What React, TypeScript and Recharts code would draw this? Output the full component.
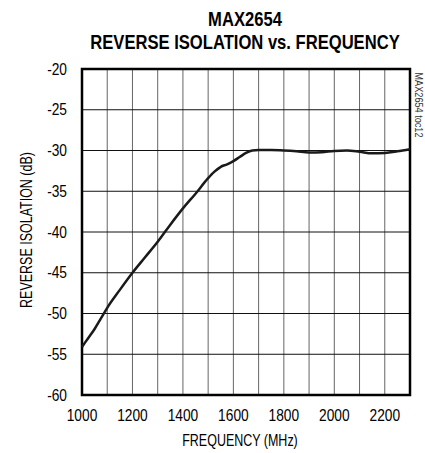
import React from 'react';
import { LineChart, Line, XAxis, YAxis, CartesianGrid, ReferenceArea } from 'recharts';

const frequencies = [1000, 1025, 1050, 1075, 1100, 1150, 1200, 1250, 1300, 1350, 1400, 1450, 1500, 1525, 1550, 1575, 1600, 1625, 1650, 1675, 1700, 1750, 1800, 1850, 1900, 1950, 2000, 2050, 2100, 2150, 2200, 2250, 2300];
const isolation = [-54.1, -53.0, -51.9, -50.6, -49.3, -47.1, -45.0, -43.1, -41.2, -39.1, -37.1, -35.3, -33.4, -32.6, -32.0, -31.7, -31.3, -30.8, -30.3, -30.0, -29.95, -29.95, -30.0, -30.1, -30.25, -30.2, -30.05, -30.0, -30.15, -30.35, -30.3, -30.1, -29.85];

const gridFrequencies = [1000, 1100, 1200, 1300, 1400, 1500, 1600, 1700, 1800, 1900, 2000, 2100, 2200, 2300];
const labeledFrequencies = [1000, 1200, 1400, 1600, 1800, 2000, 2200];
const yTicks = [-60, -55, -50, -45, -40, -35, -30, -25, -20];

const titleLines = ['MAX2654', 'REVERSE ISOLATION vs. FREQUENCY'];
const xLabel = 'FREQUENCY (MHz)';
const yLabel = 'REVERSE ISOLATION (dB)';
const watermark = 'MAX2654 toc12';

const data = frequencies.map((f, i) => ({ f, v: isolation[i] }));

const FONT = "'Liberation Sans', Arial, sans-serif";

const XTick = (props: any) => {
  const { x, y, payload } = props;
  const label = labeledFrequencies.includes(payload.value) ? String(payload.value) : '';
  return (
    <text transform={`translate(${x},${y}) scale(0.86,1)`} textAnchor="middle" dy="0.71em" fontFamily={FONT} fontSize={16} fill="#000">
      {label}
    </text>
  );
};

const YTick = (props: any) => {
  const { x, y, payload } = props;
  return (
    <text transform={`translate(${x},${y}) scale(0.86,1)`} textAnchor="end" dy="0.355em" fontFamily={FONT} fontSize={16} fill="#000">
      {String(payload.value)}
    </text>
  );
};

const titleStyle: React.CSSProperties = {
  position: 'absolute',
  left: 245,
  fontFamily: FONT,
  fontWeight: 'bold',
  fontSize: 21,
  lineHeight: 1,
  color: '#000',
  whiteSpace: 'nowrap',
  transform: 'translateX(-50%) scaleX(0.79)',
};

export default function App() {
  return (
    <div style={{ position: 'absolute', left: 0, top: 0, width: 425, height: 453, background: '#fff', overflow: 'hidden' }}>
      <div style={{ ...titleStyle, top: 7.7 }}>{titleLines[0]}</div>
      <div style={{ ...titleStyle, top: 31.4 }}>{titleLines[1]}</div>
      <div style={{ position: 'absolute', left: 418, top: 104.5, fontFamily: FONT, fontSize: 11, lineHeight: 1, color: '#333', whiteSpace: 'nowrap', transform: 'translate(-50%,-50%) rotate(90deg) scaleX(0.83)' }}>
        {watermark}
      </div>
      <div style={{ position: 'absolute', left: 27, top: 230, fontFamily: FONT, fontSize: 16, lineHeight: 1, color: '#000', whiteSpace: 'nowrap', transform: 'translate(-50%,-50%) rotate(-90deg) scaleX(0.78)' }}>
        {yLabel}
      </div>
      <div style={{ position: 'absolute', left: 240, top: 441, fontFamily: FONT, fontSize: 16, lineHeight: 1, color: '#000', whiteSpace: 'nowrap', transform: 'translate(-50%,-50%) scaleX(0.78)' }}>
        {xLabel}
      </div>
      <div style={{ position: 'absolute', left: 0, top: 0 }}>
        <LineChart width={425} height={453} data={data} margin={{ top: 69, right: 15, bottom: 0, left: 0 }}>
          <CartesianGrid horizontal={false} stroke="#666" strokeWidth={1} />
          <CartesianGrid vertical={false} stroke="#111" strokeWidth={1} />
          <XAxis
            dataKey="f"
            type="number"
            domain={[1000, 2300]}
            ticks={gridFrequencies}
            interval={0}
            axisLine={false}
            tickLine={false}
            tickSize={0}
            tickMargin={15}
            height={58}
            tick={<XTick />}
          />
          <YAxis
            type="number"
            domain={[-60, -20]}
            ticks={yTicks}
            interval={0}
            axisLine={false}
            tickLine={false}
            tickSize={0}
            tickMargin={15}
            width={82}
            tick={<YTick />}
          />
          <ReferenceArea x1={1000} x2={2300} y1={-60} y2={-20} fill="none" stroke="#000" strokeWidth={2.5} ifOverflow="visible" />
          <Line type="monotone" dataKey="v" stroke="#1a1a1a" strokeWidth={2.5} dot={false} isAnimationActive={false} />
        </LineChart>
      </div>
    </div>
  );
}
